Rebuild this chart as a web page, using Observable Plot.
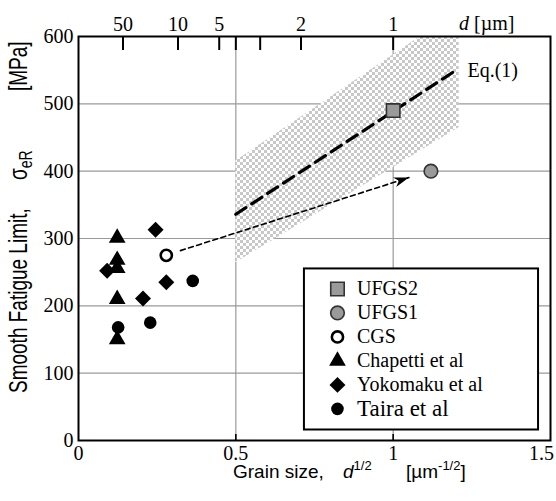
<!DOCTYPE html>
<html><head><meta charset="utf-8">
<script src="https://cdn.jsdelivr.net/npm/d3@7"></script>
<script src="https://cdn.jsdelivr.net/npm/@observablehq/plot@0.6"></script>
<style>body{margin:0;background:#fff}</style>
</head><body><div id="chart"></div>
<script>
// ---- data ----
const chapettiX = [0.123, 0.123, 0.123, 0.123, 0.123];
const chapettiY = [301, 268, 256, 210, 150];
const yokomakuX = [0.091, 0.205, 0.245, 0.279];
const yokomakuY = [252, 211, 313, 235];
const tairaX = [0.126, 0.228, 0.363];
const tairaY = [168, 175, 237];
const cgsX = [0.279], cgsY = [275];
const ufgs1X = [1.12], ufgs1Y = [400];
const ufgs2X = [1.0], ufgs2Y = [490];
const eqX = [0.5, 1.2], eqY = [336, 550];
const bandX = [0.5, 1.087, 1.21], bandLow = [264, 430, 465], bandHigh = [415, 600, 600];
const arrowX = [0.324, 1.05], arrowY = [282, 390.5];
const yTicks = [0, 100, 200, 300, 400, 500, 600];
const yGrid = [100, 200, 300, 400, 500];
const xTicks = [0, 0.5, 1, 1.5];
const xTickLabels = ["0", "0.5", "1", "1.5"];
const xGrid = [0.5, 1];
const dTicks = [50, 10, 5, 4, 3, 2, 1];
const dLabels = [50, 10, 5, 2, 1];
const legendNames = ["UFGS2", "UFGS1", "CGS", "Chapetti et al", "Yokomaku et al", "Taira et al"];

// ---- styles ----
const series = [
  {name: legendNames[0], xs: ufgs2X, ys: ufgs2Y, symbol: "square", fill: "#9a9a9a", stroke: "#333", r: 7.6, sw: 1.6},
  {name: legendNames[1], xs: ufgs1X, ys: ufgs1Y, symbol: "circle", fill: "#9a9a9a", stroke: "#333", r: 6.8, sw: 1.6},
  {name: legendNames[2], xs: cgsX, ys: cgsY, symbol: "circle", fill: "white", stroke: "black", r: 5.6, sw: 2.6},
  {name: legendNames[3], xs: chapettiX, ys: chapettiY, symbol: "triangle", fill: "black", stroke: "none", r: 6.2, sw: 0},
  {name: legendNames[4], xs: yokomakuX, ys: yokomakuY, symbol: "diamond2", fill: "black", stroke: "none", r: 7.2, sw: 0},
  {name: legendNames[5], xs: tairaX, ys: tairaY, symbol: "circle", fill: "black", stroke: "none", r: 6.3, sw: 0}
];
const serif = "'Liberation Serif', 'Times New Roman', serif";
const sans = "'Liberation Sans', Arial, sans-serif";
const LEG = {x1: 0.718, x2: 1.462, y1: 15.6, y2: 254.8, symX: 0.823, textX: 0.885, row0: 225, step: 35.6};

const headShape = {
  draw(ctx, l) {
    ctx.moveTo(0, -l);
    ctx.lineTo(5, 0);
    ctx.lineTo(0, -l * 0.3);
    ctx.lineTo(-5, 0);
    ctx.closePath();
  }
};

const band = bandX.map((x, i) => ({x, lo: bandLow[i], hi: bandHigh[i]}));
const eq = eqX.map((x, i) => ({x, y: eqY[i]}));
const arr = arrowX.map((x, i) => ({x, y: arrowY[i]}));
const legendRows = series.map((s, i) => ({...s, ly: LEG.row0 - i * LEG.step}));
const lab = v => xTickLabels[xTicks.indexOf(v)];

const marks = [
  Plot.gridY(yGrid, {stroke: "#9a9a9a", strokeOpacity: 1, strokeWidth: 1.2}),
  Plot.gridX(xGrid, {stroke: "#9a9a9a", strokeOpacity: 1, strokeWidth: 1.2}),
  Plot.areaY(band, {x: "x", y1: "lo", y2: "hi", fill: "url(#checker)", clip: true}),
  Plot.line(eq, {x: "x", y: "y", stroke: "black", strokeWidth: 3.2, strokeDasharray: "12,7"}),
  Plot.line(arr, {x: "x", y: "y", stroke: "black", strokeWidth: 1.6, strokeDasharray: "5,3.5"}),
  Plot.vector([arr[1]], {x: "x", y: "y", length: 15, rotate: 72, anchor: "end", shape: headShape, fill: "black", stroke: "none"}),
  ...series.map(s => Plot.dot(s.xs.map((x, i) => ({x, y: s.ys[i]})), {
    x: "x", y: "y", symbol: s.symbol, r: s.r, fill: s.fill, stroke: s.stroke, strokeWidth: s.sw
  })),
  Plot.text(["Eq.(1)"], {x: 1.236, y: 549, text: d => d, textAnchor: "start", fontSize: 20, fontFamily: serif, fill: "black"}),
  // legend
  Plot.rect([LEG], {x1: "x1", x2: "x2", y1: "y1", y2: "y2", fill: "white", stroke: "black", strokeWidth: 2}),
  ...legendRows.map(s => Plot.dot([s], {x: () => LEG.symX, y: "ly", symbol: s.symbol, r: s.r, fill: s.fill, stroke: s.stroke, strokeWidth: s.sw})),
  Plot.text(legendRows, {x: () => LEG.textX, y: "ly", text: "name", textAnchor: "start", fontFamily: serif,
    fontSize: d => d.name === "Taira et al" ? 23 : 20, fill: "black"}),
  // axes
  Plot.axisY({ticks: yTicks, tickSize: 0, tickPadding: 5, fontSize: 20, fontFamily: serif, label: null, fill: "black"}),
  Plot.axisX({ticks: xTicks.slice(0, 3), tickFormat: lab, tickSize: 0, tickPadding: 5, fontSize: 20, fontFamily: serif, label: null, fill: "black"}),
  Plot.axisX({ticks: xTicks.slice(3), tickFormat: lab, tickSize: 0, tickPadding: 5, dx: -9, fontSize: 20, fontFamily: serif, label: null, fill: "black"}),
  Plot.axisX({ticks: xGrid, tickFormat: () => "", tickSize: 6, dy: -6, strokeWidth: 1.6, label: null}),
  Plot.axisX({anchor: "top", ticks: dLabels.map(d => 1 / Math.sqrt(d)), tickFormat: v => String(Math.round(1 / (v * v))), tickSize: 0, tickPadding: 6, fontSize: 20, fontFamily: serif, label: null, fill: "black"}),
  Plot.axisX({anchor: "top", ticks: dTicks.map(d => 1 / Math.sqrt(d)), tickFormat: () => "", tickSize: 13, dy: 13, strokeWidth: 2, label: null}),
  Plot.frame({stroke: "black", strokeWidth: 2})
];

const plot = Plot.plot({
  width: 556, height: 501,
  marginLeft: 78, marginRight: 6, marginTop: 36, marginBottom: 61,
  x: {domain: [0, 1.5]},
  y: {domain: [0, 600]},
  style: {background: "white", color: "black", fontFamily: serif, fontSize: "20px"},
  marks
});

const svg = d3.select(plot);
// make sure every library-drawn text uses the serif face
svg.selectAll("text").style("font-family", serif);

const defs = svg.insert("defs", ":first-child");
const pat = defs.append("pattern").attr("id", "checker").attr("width", 6).attr("height", 6).attr("patternUnits", "userSpaceOnUse");
pat.append("rect").attr("width", 6).attr("height", 6).attr("fill", "#ffffff");
pat.append("rect").attr("width", 3).attr("height", 3).attr("fill", "#c8c8c8");
pat.append("rect").attr("x", 3).attr("y", 3).attr("width", 3).attr("height", 3).attr("fill", "#c8c8c8");

// axis titles (rich text)
const xl = svg.append("text").attr("font-family", sans).attr("font-size", 19).attr("fill", "black")
  .attr("text-anchor", "start").attr("y", 478);
xl.append("tspan").attr("x", 233).text("Grain size,");
xl.append("tspan").attr("x", 343).attr("font-style", "italic").attr("font-size", 19).text("d");
xl.append("tspan").attr("dy", -8).attr("font-size", 13).text("1/2");
xl.append("tspan").attr("x", 406).attr("dy", 8).text("[\u00b5m");
xl.append("tspan").attr("dy", -8).attr("font-size", 13).text("-1/2");
xl.append("tspan").attr("dy", 8).text("]");

const yl = svg.append("g").attr("font-family", sans).attr("font-size", 19).attr("fill", "black").attr("text-anchor", "start");
yl.append("text").attr("transform", "translate(27,393) rotate(-90) scale(1,1.35)").text("Smooth Fatigue Limit,");
const s2 = yl.append("text").attr("transform", "translate(27,180) rotate(-90) scale(1,1.35)");
s2.append("tspan").text("\u03c3");
s2.append("tspan").attr("dy", 4).attr("font-size", 14).text("eR");
yl.append("text").attr("transform", "translate(27,91) rotate(-90) scale(1,1.35)").text("[MPa]");

const tl = svg.append("text").attr("font-family", serif).attr("font-size", 20).attr("fill", "black")
  .attr("text-anchor", "start").attr("x", 459).attr("y", 30);
tl.append("tspan").attr("font-style", "italic").text("d");
tl.append("tspan").text(" [\u00b5m]");

document.getElementById("chart").appendChild(plot);
</script>
</body></html>
